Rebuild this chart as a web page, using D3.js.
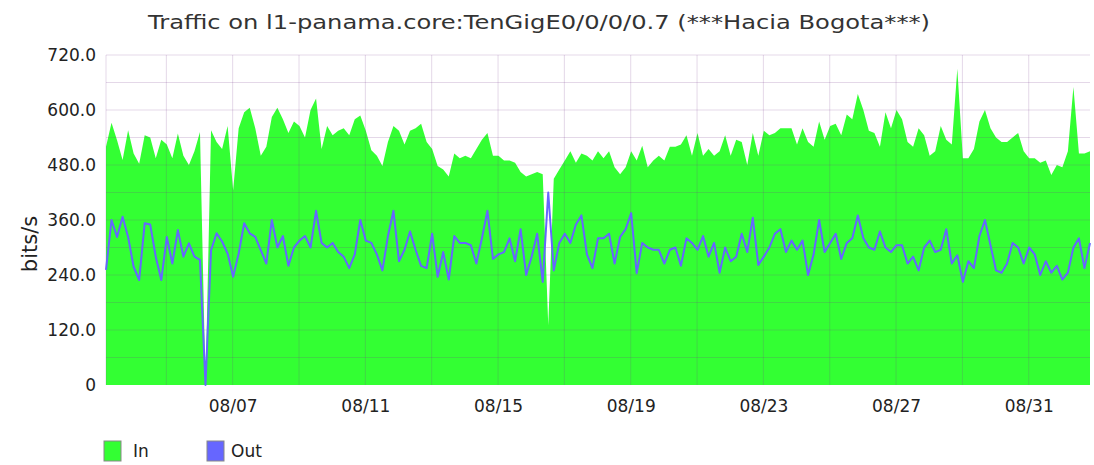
<!DOCTYPE html>
<html>
<head>
<meta charset="utf-8">
<script src="https://cdn.jsdelivr.net/npm/d3@7"></script>
<style>
  body { margin: 0; background: #fff; }
  svg text { font-family: "DejaVu Sans", sans-serif; fill: #222; }
</style>
</head>
<body>
<svg id="chart" width="1094" height="465"></svg>
<script>
// samples every 4 hours, first one at 08/03 04:20
var startTime = new Date(2023, 7, 3, 4, 20);
var stepHours = 4;

var inValues = [
  520, 572, 534, 491, 556, 505, 483, 545, 540, 495,
  535, 525, 495, 549, 500, 480, 510, 552, 0, 556,
  530, 515, 565, 425, 560, 595, 605, 560, 500, 520,
  585, 605, 580, 550, 575, 565, 540, 600, 625, 515,
  565, 545, 555, 560, 545, 580, 588, 555, 512, 500,
  478, 530, 565, 555, 525, 555, 560, 570, 530, 515,
  478, 470, 455, 505, 495, 500, 495, 515, 535, 550,
  500, 500, 490, 490, 485, 465, 455, 460, 465, 460,
  130, 450, 470, 490, 510, 485, 505, 500, 490, 510,
  495, 510, 475, 460, 475, 510, 490, 522, 475, 490,
  500, 490, 520, 520, 525, 545, 500, 550, 500, 515,
  500, 510, 545, 500, 535, 530, 480, 550, 500,
  555, 545, 550, 560, 560, 560, 525, 560, 530, 520,
  575, 535, 565, 570, 545, 590, 580, 635, 600, 555,
  550, 520, 595, 560, 600, 580, 530, 520, 560, 545,
  500, 510, 565, 535, 525, 690, 495, 495, 515, 575,
  600, 560, 540, 530, 530, 540, 550, 510, 495, 495,
  485, 490, 458, 480, 475, 510, 650, 505, 505, 510
];

var outValues = [
  251, 360, 323, 367, 323, 258, 229, 353, 350, 280,
  229, 323, 265, 338, 280, 309, 280, 273, 0, 294,
  331, 313, 287, 236, 287, 353, 331, 323, 294, 265,
  360, 300, 325, 260, 300, 315, 325, 300, 380, 310,
  300, 310, 290, 280, 255, 285, 360, 315, 310, 285,
  250, 325, 380, 270, 295, 335, 295, 260, 255, 330,
  236, 290, 230, 325, 310, 310, 305, 265, 320, 380,
  275, 285, 290, 320, 270, 340, 240, 280, 330, 225,
  420, 250, 310, 330, 310, 350, 370, 285, 255, 320,
  320, 330, 265, 323, 340, 375, 244, 310, 300, 295,
  295, 265, 295, 300, 260, 320, 310, 295, 325, 280,
  310, 245, 300, 270, 280, 330, 290, 365, 262,
  280, 300, 330, 340, 290, 315, 295, 315, 240, 285,
  360, 290, 310, 330, 275, 310, 320, 370, 320, 300,
  295, 335, 300, 290, 305, 305, 265, 280, 250, 300,
  315, 290, 295, 340, 265, 283, 225, 270, 255, 325,
  360, 305, 250, 245, 265, 310, 300, 265, 300, 285,
  240, 270, 245, 260, 230, 245, 300, 320, 255, 310
];

var yTicks = [0, 120, 240, 360, 480, 600, 720];
var xTickLabels = ["08/07", "08/11", "08/15", "08/19", "08/23", "08/27", "08/31"];
var seriesNames = ["In", "Out"];

var svg = d3.select("#chart");
var padding = {top: 55, left: 106, right: 4, bottom: 80};
var chartArea = {
  width: 1094 - padding.left - padding.right,
  height: 465 - padding.top - padding.bottom
};

var inColor = "#33ff33";
var outColor = "#6666ff";
var gridColor = "rgb(120,60,140)";

var times = inValues.map(function(d, i) {
  return d3.timeHour.offset(startTime, i * stepHours);
});

var xScale = d3.scaleTime()
  .domain([startTime, times[times.length - 1]])
  .range([0, chartArea.width]);
var yScale = d3.scaleLinear()
  .domain([0, 720])
  .range([chartArea.height, 0]);

var parseTick = d3.timeParse("%Y/%m/%d");

// title (the original is drawn a bit wide, so stretch it)
svg.append("text")
  .attr("x", 539)
  .attr("y", 29)
  .attr("text-anchor", "middle")
  .attr("textLength", 782)
  .attr("lengthAdjust", "spacingAndGlyphs")
  .style("font-size", "20px")
  .style("fill", "#333")
  .text("Traffic on l1-panama.core:TenGigE0/0/0/0.7 (***Hacia Bogota***)");

var plot = svg.append("g")
  .attr("transform", "translate(" + padding.left + "," + padding.top + ")");

var area = d3.area()
  .x(function(d, i) { return xScale(times[i]); })
  .y0(chartArea.height)
  .y1(function(d) { return yScale(d); });

plot.append("path")
  .datum(inValues)
  .attr("d", area)
  .attr("fill", inColor);

// grid
var gridDays = d3.timeDay.range(new Date(2023, 7, 5), times[times.length - 1], 2);
plot.selectAll(".vgrid").data(gridDays).enter()
  .append("line")
  .attr("class", "vgrid")
  .attr("x1", function(d) { return xScale(d); })
  .attr("x2", function(d) { return xScale(d); })
  .attr("y1", 0)
  .attr("y2", chartArea.height)
  .attr("stroke", gridColor)
  .attr("stroke-opacity", 0.2)
  .attr("stroke-width", 1);

plot.selectAll(".hgrid").data(d3.range(60, 721, 60)).enter()
  .append("line")
  .attr("class", "hgrid")
  .attr("x1", 0)
  .attr("x2", chartArea.width)
  .attr("y1", function(d) { return yScale(d); })
  .attr("y2", function(d) { return yScale(d); })
  .attr("stroke", gridColor)
  .attr("stroke-opacity", 0.2)
  .attr("stroke-width", 1);

plot.append("line")
  .attr("x1", 0).attr("x2", 0)
  .attr("y1", 0).attr("y2", chartArea.height)
  .attr("stroke", gridColor)
  .attr("stroke-opacity", 0.2);

var line = d3.line()
  .x(function(d, i) { return xScale(times[i]); })
  .y(function(d) { return yScale(d); });

plot.append("path")
  .datum(outValues)
  .attr("d", line)
  .attr("fill", "none")
  .attr("stroke", outColor)
  .attr("stroke-width", 2)
  .attr("stroke-linejoin", "round");

// y axis
var yAxis = plot.append("g")
  .call(d3.axisLeft(yScale)
    .tickValues(yTicks)
    .tickSize(0)
    .tickPadding(10)
    .tickFormat(function(d) { return d === 0 ? "0" : d.toFixed(1); }));
yAxis.select(".domain").remove();
yAxis.selectAll("text")
  .style("font-size", "17px")
  .style("font-family", "DejaVu Sans, sans-serif")
  .attr("fill", "#222");

// x axis
var xAxis = plot.append("g")
  .attr("transform", "translate(0," + chartArea.height + ")")
  .call(d3.axisBottom(xScale)
    .tickValues(xTickLabels.map(function(s) { return parseTick("2023/" + s); }))
    .tickSize(0)
    .tickPadding(15)
    .tickFormat(d3.timeFormat("%m/%d")));
xAxis.select(".domain").remove();
xAxis.selectAll("text")
  .style("font-size", "17px")
  .style("font-family", "DejaVu Sans, sans-serif")
  .attr("fill", "#222");

// y label
svg.append("text")
  .attr("transform", "rotate(-90)")
  .attr("x", -244)
  .attr("y", 37)
  .attr("text-anchor", "middle")
  .style("font-size", "21px")
  .text("bits/s");

// legend
var legend = svg.append("g")
  .attr("transform", "translate(104,441)");
var legendItems = legend.selectAll("g").data(seriesNames).enter()
  .append("g")
  .attr("transform", function(d, i) { return "translate(" + (i * 103) + ",0)"; });
legendItems.append("rect")
  .attr("width", 17)
  .attr("height", 20)
  .attr("fill", function(d, i) { return i === 0 ? inColor : outColor; })
  .attr("stroke", "#888")
  .attr("stroke-width", 1);
legendItems.append("text")
  .attr("x", function(d, i) { return i === 0 ? 29 : 24; })
  .attr("y", 16)
  .style("font-size", "17px")
  .text(function(d) { return d; });
</script>
</body>
</html>
